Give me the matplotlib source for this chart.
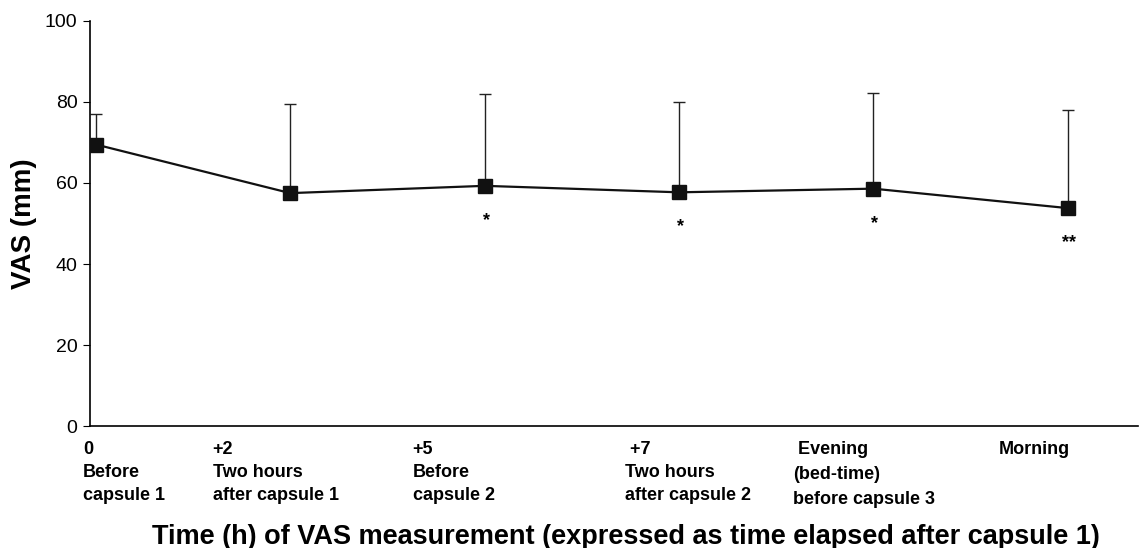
import matplotlib
matplotlib.use("Agg")
import matplotlib.pyplot as plt
import numpy as np

# VAS means and upper SD at each measurement time
labels = ["0\nBefore\ncapsule 1",
          "+2\nTwo hours\nafter capsule 1",
          "+5\nBefore\ncapsule 2",
          " +7\nTwo hours\nafter capsule 2",
          " Evening\n(bed-time)\nbefore capsule 3",
          "Morning"]
vas_mean = [69.5, 57.5, 59.3, 57.7, 58.6, 53.8]
vas_upper = [77.1, 79.4, 82.0, 80.0, 82.2, 78.0]
signif = ["", "", "*", "*", "*", "**"]

plt.rcParams['font.family'] = ['Liberation Sans', 'DejaVu Sans']

x = np.arange(len(vas_mean))
err = np.array(vas_upper) - np.array(vas_mean)

fig = plt.figure(figsize=(11.4, 5.48), dpi=100)
ax = fig.add_axes([0.079, 0.2226, 0.919, 0.7391])

ax.errorbar(x, vas_mean, yerr=[np.zeros_like(err), err], fmt='none',
            ecolor='#222222', elinewidth=1.0, capsize=4, capthick=1.0)
ax.plot(x, vas_mean, color='#111111', lw=1.6, marker='s', markersize=10,
        markerfacecolor='#111111', markeredgecolor='#111111', zorder=3)

for xi, yi, s in zip(x, vas_mean, signif):
    if s:
        ax.annotate(s, (xi, yi), xytext=(1, -25), textcoords='offset points',
                    ha='center', va='center', fontsize=13, fontweight='bold')

ax.set_xlim(-0.03, 5.36)
ax.set_ylim(0, 100)
ax.set_yticks([0, 20, 40, 60, 80, 100])
ax.tick_params(axis='y', direction='out', length=5, labelsize=14, pad=4)
ax.set_xticks([])
for side in ['top', 'right']:
    ax.spines[side].set_visible(False)
ax.spines['left'].set_linewidth(1.2)
ax.spines['bottom'].set_linewidth(1.2)

# category labels placed left-aligned under each point, offset as in the original
label_off = [-0.067, -0.40, -0.37, -0.28, -0.415, -0.355]
label_ls = [1.45, 1.45, 1.45, 1.45, 1.6, 1.45]
for xi, off, ls, lab in zip(x, label_off, label_ls, labels):
    ax.text(xi + off, -3.8, lab, ha='left', va='top', fontsize=13,
            fontweight='bold', linespacing=ls,
            transform=ax.transData)

ax.set_ylabel("VAS (mm)", fontsize=20, fontweight='bold', labelpad=6)
fig.text(0.549, 0.02, "Time (h) of VAS measurement (expressed as time elapsed after capsule 1)",
         ha='center', va='center', fontsize=19.5, fontweight='bold')

fig.savefig("out.png", dpi=100)
